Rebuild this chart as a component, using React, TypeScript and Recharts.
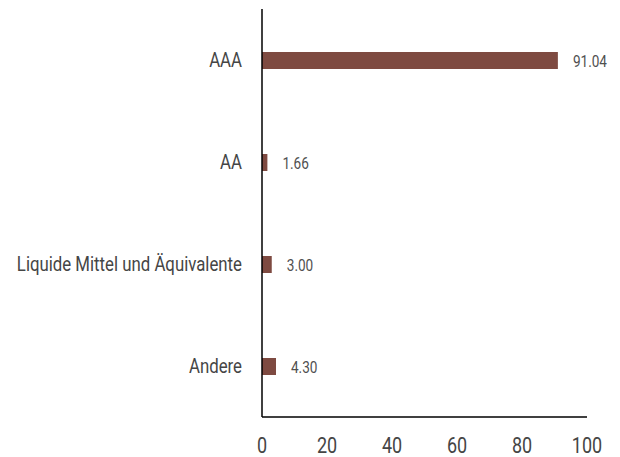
import React from "react";
import { BarChart, Bar, XAxis, YAxis, LabelList } from "recharts";

const categories = ["AAA", "AA", "Liquide Mittel und Äquivalente", "Andere"];
const values = [91.04, 1.66, 3.0, 4.3];
const xTicks = [0, 20, 40, 60, 80, 100];

const data = categories.map((c, i) => ({ name: c, value: values[i] }));

const FONT = "Roboto, sans-serif";
const SX = 0.8;

const YTick = (props: any) => {
  const { x, y, payload } = props;
  return (
    <g transform={`translate(${x},${y})`}>
      <text transform={`scale(${SX},1)`} textAnchor="end" dy="0.355em" fill="#454545" fontSize={21} fontFamily={FONT}>
        {payload.value}
      </text>
    </g>
  );
};

const XTick = (props: any) => {
  const { x, y, payload } = props;
  return (
    <g transform={`translate(${x},${y})`}>
      <text transform={`scale(${SX},1)`} textAnchor="middle" dy="0.71em" fill="#454545" fontSize={22.5} fontFamily={FONT}>
        {payload.value}
      </text>
    </g>
  );
};

const ValueLabel = (props: any) => {
  const { x, y, width, height, value } = props;
  const tx = Number(x) + Number(width) + 15;
  const ty = Number(y) + Number(height) / 2;
  return (
    <g transform={`translate(${tx},${ty})`}>
      <text transform={`scale(${SX},1)`} textAnchor="start" dy="0.355em" fill="#505050" fontSize={17} fontFamily={FONT}>
        {Number(value).toFixed(2)}
      </text>
    </g>
  );
};

export default function App() {
  return (
    <div style={{ position: "absolute", left: 0, top: 0, width: 620, height: 457, background: "#fff" }}>
      <BarChart
        width={620}
        height={457}
        data={data}
        layout="vertical"
        margin={{ top: 9, right: 33, left: 0, bottom: 0 }}
        barCategoryGap={0}
      >
        <XAxis
          type="number"
          domain={[0, 100]}
          ticks={xTicks}
          height={40}
          axisLine={{ stroke: "#000", strokeWidth: 1.5 }}
          tickLine={false}
          tickSize={0}
          tickMargin={20}
          tick={<XTick />}
        />
        <YAxis
          type="category"
          dataKey="name"
          width={262}
          axisLine={{ stroke: "#000", strokeWidth: 1.5 }}
          tickLine={false}
          tickSize={0}
          tickMargin={20}
          tick={<YTick />}
        />
        <Bar dataKey="value" fill="#7E4A41" barSize={17} isAnimationActive={false}>
          <LabelList dataKey="value" content={<ValueLabel />} />
        </Bar>
      </BarChart>
    </div>
  );
}
